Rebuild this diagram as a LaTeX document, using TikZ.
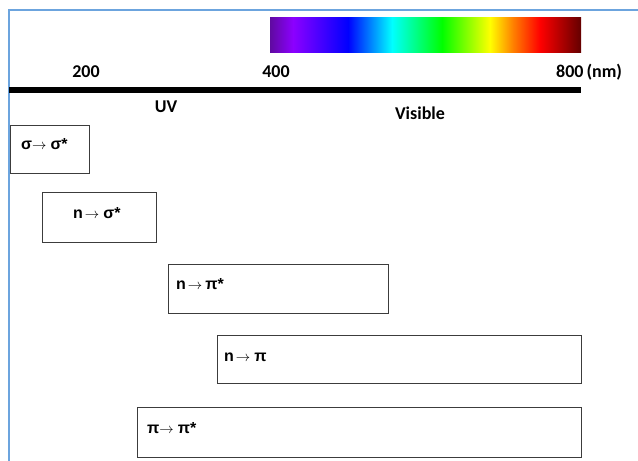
\documentclass[tikz,border=0pt]{standalone}
\usepackage{fontspec}
\setmainfont{Carlito}
\newfontfamily\arialb{Liberation Sans}
\definecolor{frameblue}{RGB}{108,164,222}
\definecolor{boxgray}{RGB}{60,60,60}
\definecolor{sp0}{RGB}{95,10,160}
\definecolor{sp1}{RGB}{140,0,255}
\definecolor{sp2}{RGB}{0,0,255}
\definecolor{sp3}{RGB}{0,255,255}
\definecolor{sp4}{RGB}{0,255,0}
\definecolor{sp5}{RGB}{255,255,0}
\definecolor{sp6}{RGB}{255,128,0}
\definecolor{sp7}{RGB}{255,0,0}
\definecolor{sp8}{RGB}{100,0,0}
\tikzset{
  trbox/.style={draw=boxgray, line width=1.2pt, inner sep=0pt, anchor=north west},
  trtext/.style={font=\arialb\bfseries\fontsize{16}{19}\selectfont, anchor=base west, inner sep=0pt},
  axlabel/.style={font=\bfseries\fontsize{18}{21}\selectfont, inner sep=0pt, anchor=base},
}
\newcommand{\arr}{{\fontsize{15}{18}\selectfont$\rightarrow$}}
\begin{document}
\begin{tikzpicture}[x=1pt,y=-1pt]
\useasboundingbox (0,0) rectangle (638,461);
% frame
\draw[frameblue, line width=2.4pt] (9,462) -- (9,10) -- (639,10);
% spectrum
\shade[left color=sp0, right color=sp1] (270,17) rectangle (293,52);
\shade[left color=sp1, right color=sp2] (293,17) rectangle (348,52);
\shade[left color=sp2, right color=sp3] (348,17) rectangle (392,52);
\shade[left color=sp3, right color=sp4] (392,17) rectangle (442,52);
\shade[left color=sp4, right color=sp5] (442,17) rectangle (490,52);
\shade[left color=sp5, right color=sp6] (490,17) rectangle (513,52);
\shade[left color=sp6, right color=sp7] (513,17) rectangle (540,52);
\shade[left color=sp7, right color=sp8] (540,17) rectangle (581,52);
% axis
\coordinate (axL) at (9,89.5);
\coordinate (axR) at (581,89.5);
\draw[black, line width=6pt] (axL) -- (axR);
\node[axlabel] (l200) at (86,77) {200};
\node[axlabel] (l400) at (276,77) {400};
\node[axlabel, anchor=base west] (l800) at (556,77) {800\,(nm)};
\node[axlabel] (luv) at (166,112) {UV};
\node[axlabel] (lvis) at (420,119) {Visible};
% boxes
\node[trbox, minimum width=79pt, minimum height=48pt] (b1) at (10,125) {};
\node[trtext] (t1) at (21,149) {σ\arr\hspace{4pt}σ*};
\node[trbox, minimum width=114pt, minimum height=50pt] (b2) at (42,192) {};
\node[trtext] (t2) at (73,218) {n\hspace{2pt}\arr\hspace{4pt}σ*};
\node[trbox, minimum width=220pt, minimum height=49pt] (b3) at (168,264) {};
\node[trtext] (t3) at (176,289) {n\hspace{2pt}\arr\hspace{3pt}π*};
\node[trbox, minimum width=364pt, minimum height=48pt] (b4) at (217,335) {};
\node[trtext] (t4) at (224,361) {n\hspace{2pt}\arr\hspace{4pt}π};
\node[trbox, minimum width=444pt, minimum height=50pt] (b5) at (137,407) {};
\node[trtext] (t5) at (147,433) {π\arr\hspace{4pt}π*};
\end{tikzpicture}
\end{document}
